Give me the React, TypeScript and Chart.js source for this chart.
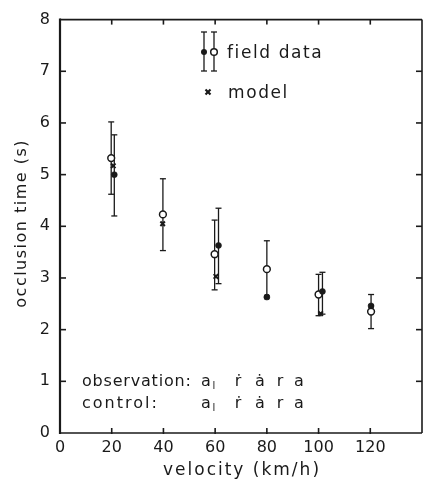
import React, { useEffect, useRef } from "react";
import { Chart, registerables } from "chart.js";

Chart.register(...registerables);

// ---------- data ----------
const xTickValues = [0, 20, 40, 60, 80, 100, 120, 140];
const yTickValues = [0, 1, 2, 3, 4, 5, 6, 7, 8];

// field data, open circles
const openX = [19.8, 39.8, 59.8, 80.0, 100.0, 120.3];
const openY = [5.32, 4.23, 3.46, 3.17, 2.68, 2.35];
const openHi = [6.02, 4.92, 4.12, 3.72, 3.07, 2.68];
const openLo = [4.62, 3.53, 2.77, 2.63, 2.27, 2.02];

// field data, filled dots
const filledX = [21.0, 61.3, 80.0, 101.5, 120.3];
const filledY = [5.0, 3.63, 2.63, 2.74, 2.46];
const filledHi: (number | null)[] = [5.77, 4.35, null, 3.11, null];
const filledLo: (number | null)[] = [4.2, 2.89, null, 2.3, null];

// model
const modelX = [20.6, 39.7, 60.3, 80.0, 100.8, 120.3];
const modelY = [5.17, 4.05, 3.03, 2.63, 2.31, 2.45];

const xTitle = "velocity (km/h)";
const yTitle = "occlusion time (s)";
const legendField = "field data";
const legendModel = "model";
const obsLabel = "observation:";
const ctrlLabel = "control:";
const symbolTokens = ["a", "ṙ", "ȧ", "r", "a"];

// ---------- style ----------
const INK = "#1a1a1a";
const FONT = '"DejaVu Sans", sans-serif';

const pairs = (xs: number[], ys: number[]) => xs.map((x, i) => ({ x, y: ys[i] }));

function line(ctx: CanvasRenderingContext2D, x1: number, y1: number, x2: number, y2: number) {
  ctx.beginPath();
  ctx.moveTo(x1, y1);
  ctx.lineTo(x2, y2);
  ctx.stroke();
}

function errBar(ctx: CanvasRenderingContext2D, px: number, top: number, bottom: number) {
  line(ctx, px, top, px, bottom);
  line(ctx, px - 3, top, px + 3, top);
  line(ctx, px - 3, bottom, px + 3, bottom);
}

const errorBars = {
  id: "errorBars",
  beforeDatasetsDraw(chart: any) {
    const { ctx, scales } = chart;
    const xs = scales.x;
    const ys = scales.y;
    ctx.save();
    ctx.strokeStyle = INK;
    ctx.lineWidth = 1.3;
    openX.forEach((xv, i) => {
      errBar(ctx, xs.getPixelForValue(xv), ys.getPixelForValue(openHi[i]), ys.getPixelForValue(openLo[i]));
    });
    filledX.forEach((xv, i) => {
      const hi = filledHi[i];
      const lo = filledLo[i];
      if (hi == null || lo == null) return;
      errBar(ctx, xs.getPixelForValue(xv), ys.getPixelForValue(hi), ys.getPixelForValue(lo));
    });
    ctx.restore();
  },
};

const frame = {
  id: "frame",
  afterDraw(chart: any) {
    const { ctx, chartArea: a, scales } = chart;
    ctx.save();
    ctx.strokeStyle = INK;
    ctx.lineWidth = 2.2;
    line(ctx, a.left, a.top - 1, a.left, a.bottom + 1);
    ctx.lineWidth = 1.6;
    line(ctx, a.left, a.bottom, a.right, a.bottom);
    line(ctx, a.left, a.top, a.right, a.top);
    line(ctx, a.right, a.top, a.right, a.bottom);
    xTickValues.forEach((v) => {
      if (v === xTickValues[0] || v === xTickValues[xTickValues.length - 1]) return;
      const px = scales.x.getPixelForValue(v);
      line(ctx, px, a.bottom + 1, px, a.bottom - 5);
      line(ctx, px, a.top, px, a.top + 5);
    });
    yTickValues.forEach((v) => {
      if (v === yTickValues[0] || v === yTickValues[yTickValues.length - 1]) return;
      const py = scales.y.getPixelForValue(v);
      line(ctx, a.left, py, a.left + 6, py);
      line(ctx, a.right, py, a.right - 6, py);
    });

    // axis titles
    ctx.fillStyle = INK;
    ctx.textAlign = "center";
    ctx.textBaseline = "alphabetic";
    (ctx as any).letterSpacing = "2px";
    ctx.font = `17px ${FONT}`;
    ctx.fillText(xTitle, (a.left + a.right) / 2 + 1, 475);
    ctx.save();
    ctx.translate(26, (a.top + a.bottom) / 2 - 3);
    ctx.rotate(-Math.PI / 2);
    (ctx as any).letterSpacing = "1.5px";
    ctx.font = `16px ${FONT}`;
    ctx.fillText(yTitle, 0, 0);
    ctx.restore();

    // legend: field data
    ctx.lineWidth = 1.3;
    errBar(ctx, 204, 32, 71);
    errBar(ctx, 214, 32, 71);
    ctx.beginPath();
    ctx.arc(204, 52, 3, 0, Math.PI * 2);
    ctx.fill();
    ctx.beginPath();
    ctx.arc(214, 52, 3.3, 0, Math.PI * 2);
    ctx.fillStyle = "#ffffff";
    ctx.fill();
    ctx.lineWidth = 1.5;
    ctx.stroke();
    ctx.fillStyle = INK;
    // model cross
    ctx.lineWidth = 2.2;
    line(ctx, 205.5, 89.5, 210.5, 94.5);
    line(ctx, 205.5, 94.5, 210.5, 89.5);

    ctx.textAlign = "left";
    ctx.font = `17px ${FONT}`;
    (ctx as any).letterSpacing = "1.6px";
    ctx.fillText(legendField, 227, 58);
    ctx.fillText(legendModel, 228, 98);

    // bottom annotation
    ctx.font = `16px ${FONT}`;
    (ctx as any).letterSpacing = "0.8px";
    ctx.fillText(obsLabel, 82, 386);
    (ctx as any).letterSpacing = "2px";
    ctx.fillText(ctrlLabel, 82, 408);
    (ctx as any).letterSpacing = "0px";
    const centers = [206, 238, 260, 280, 299];
    [386, 408].forEach((base) => {
      ctx.textAlign = "center";
      ctx.font = `16px ${FONT}`;
      symbolTokens.forEach((t, i) => ctx.fillText(t, centers[i], base));
      ctx.font = `10px ${FONT}`;
      ctx.fillText("l", 214, base + 3);
    });
    ctx.restore();
  },
};

export default function App() {
  const ref = useRef<HTMLCanvasElement | null>(null);

  useEffect(() => {
    if (!ref.current) return;
    const chart = new Chart(ref.current, {
      type: "scatter",
      data: {
        datasets: [
          {
            label: "model",
            data: pairs(modelX, modelY),
            pointStyle: "crossRot",
            radius: 3.2,
            borderColor: INK,
            borderWidth: 2,
            backgroundColor: INK,
          },
          {
            label: "field data (filled)",
            data: pairs(filledX, filledY),
            pointStyle: "circle",
            radius: 3,
            borderWidth: 0.5,
            borderColor: INK,
            backgroundColor: INK,
          },
          {
            label: "field data (open)",
            data: pairs(openX, openY),
            pointStyle: "circle",
            radius: 3.4,
            borderWidth: 1.5,
            borderColor: INK,
            backgroundColor: "#ffffff",
          },
        ],
      },
      options: {
        responsive: false,
        animation: false,
        devicePixelRatio: 1,
        layout: { padding: { top: 14, right: 3, left: 0, bottom: 0 } },
        plugins: {
          legend: { display: false },
          tooltip: { enabled: false },
        },
        scales: {
          x: {
            type: "linear",
            min: xTickValues[0],
            max: xTickValues[xTickValues.length - 1],
            afterBuildTicks: (s: any) => {
              s.ticks = xTickValues.map((v) => ({ value: v }));
            },
            afterFit: (s: any) => {
              s.height = 46;
            },
            grid: { display: false, drawTicks: false },
            border: { display: false },
            ticks: {
              autoSkip: false,
              maxRotation: 0,
              padding: 5,
              color: INK,
              font: { family: FONT, size: 16 },
              callback: (v: any) => (v === xTickValues[xTickValues.length - 1] ? "" : String(v)),
            },
          },
          y: {
            type: "linear",
            min: yTickValues[0],
            max: yTickValues[yTickValues.length - 1],
            afterBuildTicks: (s: any) => {
              s.ticks = yTickValues.map((v) => ({ value: v }));
            },
            afterFit: (s: any) => {
              s.width = 60;
            },
            grid: { display: false, drawTicks: false },
            border: { display: false },
            ticks: {
              padding: 10,
              color: INK,
              font: { family: FONT, size: 16 },
            },
          },
        },
      },
      plugins: [errorBars, frame],
    });
    return () => chart.destroy();
  }, []);

  return (
    <div
      style={{
        position: "absolute",
        left: 0,
        top: 0,
        width: 424,
        height: 479,
        overflow: "hidden",
        background: "#ffffff",
      }}
    >
      <canvas ref={ref} width={428} height={479} style={{ display: "block" }} />
    </div>
  );
}
